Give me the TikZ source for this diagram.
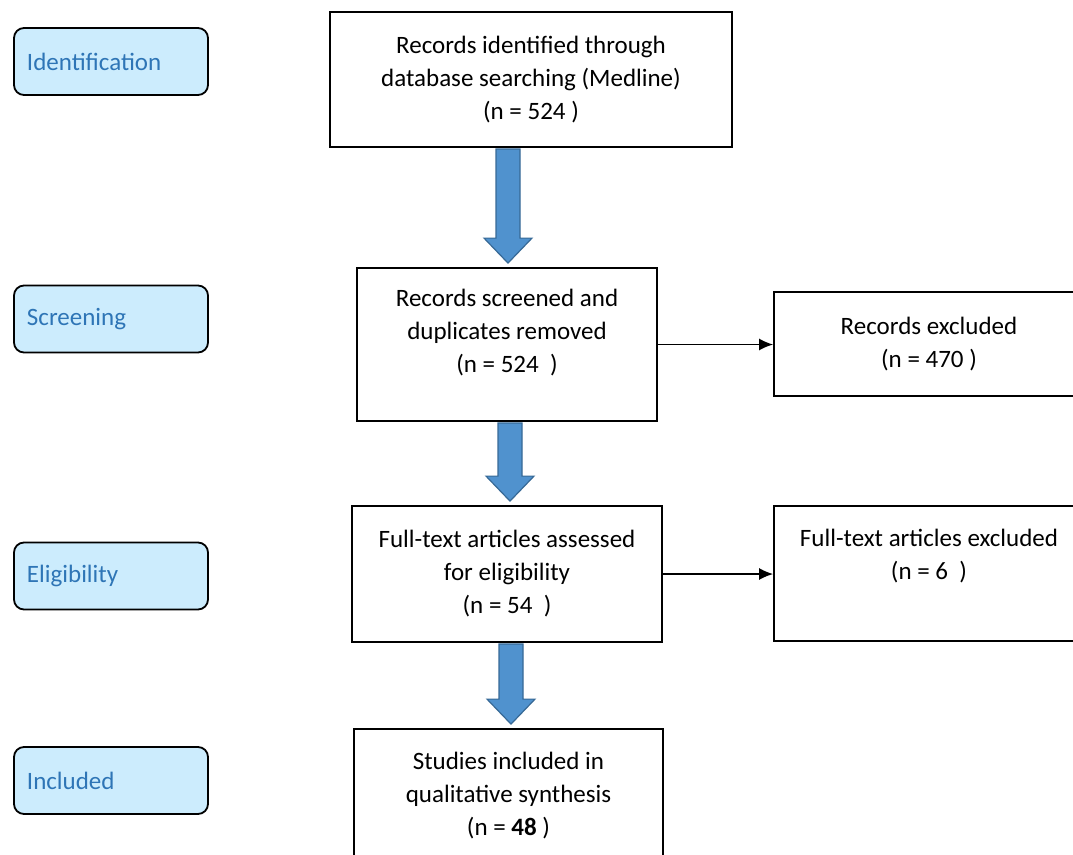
\documentclass[tikz,border=0pt]{standalone}
\usepackage{fontspec}
\setmainfont{Carlito}
\usetikzlibrary{calc,arrows.meta}
\definecolor{labfill}{RGB}{204,236,253}
\definecolor{labtext}{RGB}{46,117,182}
\definecolor{arrfill}{RGB}{80,146,206}
\definecolor{arrdraw}{RGB}{55,105,150}
\begin{document}
\begin{tikzpicture}[x=1pt,y=-1pt,
  box/.style={draw=black, line width=1.8pt, fill=white, inner sep=0pt,
    font=\fontsize{25}{33}\selectfont, align=center},
  txt/.style={inner sep=0pt, font=\fontsize{25}{33}\selectfont, align=center},
  lab/.style={draw=black, line width=1.8pt, fill=labfill, rounded corners=10pt,
    minimum width=194pt, minimum height=67pt, text width=168pt, align=left,
    text=labtext, font=\fontsize{25}{30}\selectfont, inner sep=0pt},
  conn/.style={line width=1.5pt, -{Latex[length=14pt,width=12pt]}},
  blockarrow/.style={fill=arrfill, draw=arrdraw, line width=1.2pt, line join=miter}]
\useasboundingbox (0,0) rectangle (1073,854);
\clip (0,0) rectangle (1073,854);

% stage labels
\node[lab] (l1) at (111,61.5) {Identification};
\node[lab] (l2) at (111,319) {Screening};
\node[lab] (l3) at (111,576) {Eligibility};
\node[lab] (l4) at (111,780.5) {Included};

% main boxes
\node[box, minimum width=402pt, minimum height=135pt] (b1) at (531,79.5)
  {Records identified through\\database searching (Medline)\\(n = 524 )};
\node[box, minimum width=300pt, minimum height=153pt] (b2) at (507,344.5) {};
\node[txt] (t2) at ($(b2.center)+(0,-11.5)$)
  {Records screened and\\duplicates removed\\(n = 524~~)};
\node[box, minimum width=310pt, minimum height=136pt] (b3) at (507,574)
  {Full-text articles assessed\\for eligibility\\(n = 54~~)};
\node[box, minimum width=309pt, minimum height=134pt] (b4) at (508.5,796)
  {Studies included in\\qualitative synthesis\\(n = \textbf{48} )};

% side boxes
\node[box, minimum width=310pt, minimum height=104pt] (r1) at (929,344)
  {Records excluded\\(n = 470 )};
\node[box, minimum width=310pt, minimum height=135pt] (r2) at (929,573.5) {};
\node[txt] (t5) at ($(r2.center)+(0,-17)$)
  {Full-text articles excluded\\(n = 6~~)};

% thin connectors
\draw[conn] (b2.east) -- (b2.east -| r1.west);
\draw[conn] (b3.east) -- (b3.east -| r2.west);

% block arrows
\foreach \t/\b/\x in {b1/b2/508, b2/b3/510, b3/b4/511} {
  \coordinate (cx) at (\x,0);
  \path (\t.south -| cx) coordinate (top)
        ([yshift=4pt]\b.north -| cx) coordinate (tip);
  \draw[blockarrow] ($(top)+(-12,1)$) -- ($(tip)+(-12,-25)$) -- ($(tip)+(-24,-25)$)
     -- (tip) -- ($(tip)+(24,-25)$) -- ($(tip)+(12,-25)$) -- ($(top)+(12,1)$) -- cycle;
}
\end{tikzpicture}
\end{document}
